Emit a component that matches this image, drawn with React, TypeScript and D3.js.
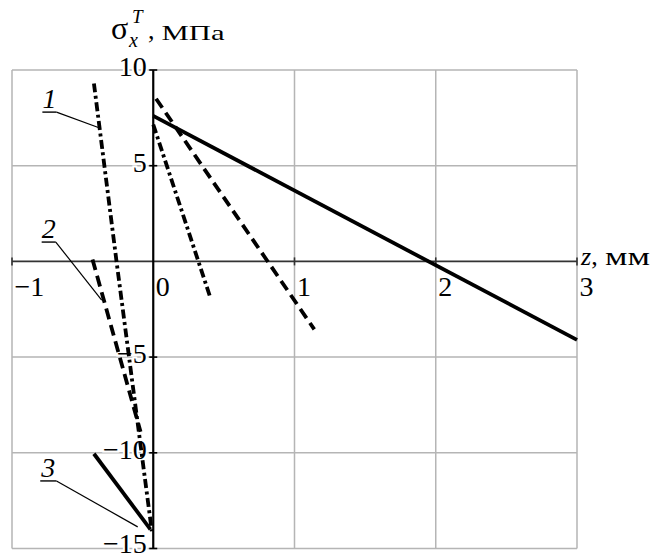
import React, {useEffect, useRef} from 'react';
import * as d3 from 'd3';

// z, mm
const xGridValues = [-1, 1, 2, 3];
const xTickLabels = ['\u22121', '0', '1', '2', '3'];
const xTickValues = [-1, 0, 1, 2, 3];
// sigma, MPa
const yGridValues = [10, 5, -5, -10, -15];
const yTickLabels = ['10', '5', '\u22125', '\u221210', '\u221215'];

// curves: [z, sigma]
const rightSolid = [[0, 7.6], [3, -4.1]];
const rightDashed = [[0.02, 8.5], [1.14, -3.55]];
const rightDashDot = [[0.0, 7.15], [0.4, -1.8]];
const leftDashDot = [[-0.42, 9.3], [-0.26, 0], [-0.01, -14.1]];
const leftDashed = [[-0.43, 0.1], [-0.09, -8.9]];
const leftSolid = [[-0.42, -10.05], [-0.02, -14.0]];

// callout labels: text, underline left/right, underline level, leader target
const calloutText = ['1', '2', '3'];
const calloutUnder = [[-0.785, -0.685, 7.8], [-0.79, -0.69, 1.01], [-0.8, -0.685, -11.47]];
const calloutTarget = [[-0.379, 6.97], [-0.365, -2.02], [-0.11, -13.87]];

const FONT = '"Liberation Serif", "Times New Roman", serif';

export default function App() {
    const svgRef = useRef(null);

    useEffect(() => {
        const width = 654;
        const height = 555;

        d3.select(svgRef.current).selectAll('*').remove();
        const svg = d3.select(svgRef.current)
            .attr('width', width)
            .attr('height', height)
            .style('font-family', FONT);

        const x = d3.scaleLinear().domain([-1, 3]).range([12, 577]);
        const y = d3.scaleLinear().domain([-15, 10]).range([548.5, 70]);

        // grid
        const grid = svg.append('g')
            .attr('stroke', '#b5b5b5')
            .attr('stroke-width', 1.5);
        xGridValues.forEach(v => {
            grid.append('line')
                .attr('x1', x(v)).attr('x2', x(v))
                .attr('y1', y(10)).attr('y2', y(-15));
        });
        yGridValues.forEach(v => {
            grid.append('line')
                .attr('x1', x(-1)).attr('x2', x(3))
                .attr('y1', y(v)).attr('y2', y(v));
        });

        // axes
        svg.append('line')
            .attr('x1', x(-1)).attr('x2', x(3))
            .attr('y1', y(0)).attr('y2', y(0))
            .attr('stroke', '#333').attr('stroke-width', 1.6);
        svg.append('line')
            .attr('x1', x(0)).attr('x2', x(0))
            .attr('y1', y(10)).attr('y2', y(-15))
            .attr('stroke', '#000').attr('stroke-width', 2.2);

        yGridValues.forEach(v => {
            svg.append('line')
                .attr('x1', x(0) - 4).attr('x2', x(0) + 4)
                .attr('y1', y(v)).attr('y2', y(v))
                .attr('stroke', '#000').attr('stroke-width', 1.6);
        });
        xGridValues.forEach(v => {
            svg.append('line')
                .attr('x1', x(v)).attr('x2', x(v))
                .attr('y1', y(0) - 4).attr('y2', y(0) + 4)
                .attr('stroke', '#333').attr('stroke-width', 1.6);
        });

        // tick labels
        yGridValues.forEach((v, i) => {
            svg.append('text')
                .attr('x', x(0) - 6.5)
                .attr('y', Math.min(y(v) + 6, 553))
                .attr('text-anchor', 'end')
                .attr('font-size', '28px')
                .attr('fill', '#000')
                .attr('stroke', '#fff')
                .attr('stroke-width', 4)
                .attr('paint-order', 'stroke')
                .text(yTickLabels[i]);
        });
        xTickValues.forEach((v, i) => {
            svg.append('text')
                .attr('x', x(v) + 2.5)
                .attr('y', y(0) + 35)
                .attr('font-size', '28px')
                .attr('fill', '#000')
                .text(xTickLabels[i]);
        });

        // curves
        const line = d3.line()
            .x(d => x(d[0]))
            .y(d => y(d[1]));

        const curves = [
            {data: rightSolid, dash: null},
            {data: rightDashed, dash: '11 6'},
            {data: rightDashDot, dash: '9 3.5 3 3.5'},
            {data: leftDashDot, dash: '9 3.5 3 3.5'},
            {data: leftDashed, dash: '11 6'},
            {data: leftSolid, dash: null}
        ];
        curves.forEach(c => {
            svg.append('path')
                .datum(c.data)
                .attr('fill', 'none')
                .attr('stroke', '#000')
                .attr('stroke-width', 3.8)
                .attr('stroke-dasharray', c.dash)
                .attr('d', line);
        });

        // callouts
        calloutText.forEach((t, i) => {
            const [u0, u1, uy] = calloutUnder[i];
            const [tx, ty] = calloutTarget[i];
            svg.append('line')
                .attr('x1', x(u0)).attr('x2', x(u1))
                .attr('y1', y(uy)).attr('y2', y(uy))
                .attr('stroke', '#000').attr('stroke-width', 1.4);
            svg.append('line')
                .attr('x1', x(u1)).attr('x2', x(tx))
                .attr('y1', y(uy)).attr('y2', y(ty))
                .attr('stroke', '#000').attr('stroke-width', 1.2);
            svg.append('text')
                .attr('x', (x(u0) + x(u1)) / 2)
                .attr('y', y(uy) - 4)
                .attr('text-anchor', 'middle')
                .attr('font-size', '28px')
                .attr('font-style', 'italic')
                .attr('fill', '#000')
                .text(t);
        });

        // y title: sigma_x^T, MPa
        const title = svg.append('g').attr('fill', '#000');
        title.append('text')
            .attr('x', 111).attr('y', 39)
            .attr('font-size', '32px')
            .text('\u03C3');
        title.append('text')
            .attr('x', 129).attr('y', 46.5)
            .attr('font-size', '20px')
            .attr('font-style', 'italic')
            .text('x');
        title.append('text')
            .attr('x', 132).attr('y', 22.5)
            .attr('font-size', '19px')
            .attr('font-style', 'italic')
            .text('T');
        title.append('text')
            .attr('x', 148).attr('y', 39)
            .attr('font-size', '26px')
            .text(',');
        title.append('text')
            .attr('x', 161.5).attr('y', 39.5)
            .attr('font-size', '22px')
            .attr('textLength', 63)
            .attr('lengthAdjust', 'spacingAndGlyphs')
            .text('\u041C\u041F\u0430');

        // x title: z, mm
        svg.append('text')
            .attr('x', 581).attr('y', 265)
            .attr('font-size', '26px')
            .attr('fill', '#000')
            .call(t => {
                t.append('tspan').attr('font-style', 'italic').text('z');
                t.append('tspan').text(',');
            });
        svg.append('text')
            .attr('x', 605).attr('y', 265)
            .attr('font-size', '26px')
            .attr('fill', '#000')
            .attr('textLength', 45)
            .attr('lengthAdjust', 'spacingAndGlyphs')
            .text('\u043C\u043C');
    }, []);

    return (
        <div style={{position: 'absolute', left: 0, top: 0, background: '#fff'}}>
            <svg ref={svgRef} style={{display: 'block'}}></svg>
        </div>
    );
}
